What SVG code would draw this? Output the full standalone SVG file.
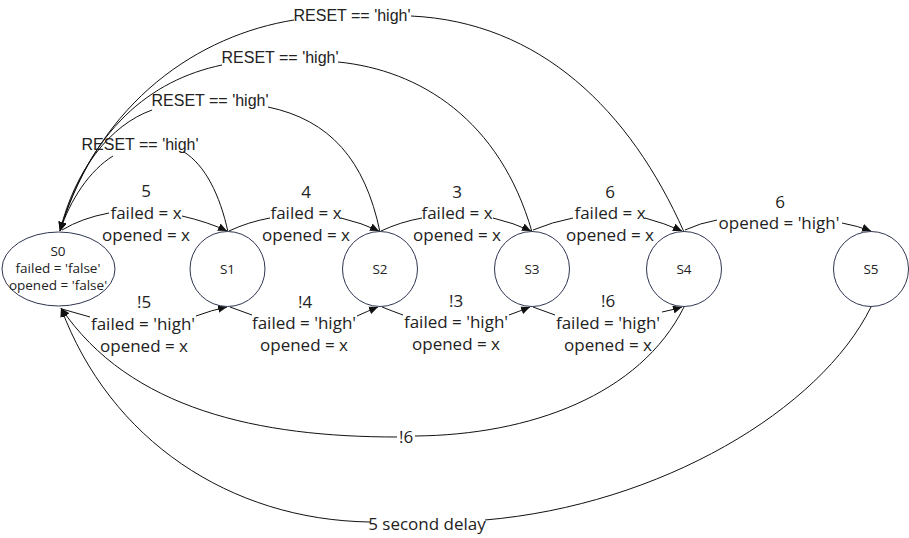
<svg xmlns="http://www.w3.org/2000/svg" width="909" height="538" viewBox="0 0 909 538">
<style>
.node{fill:#fff;stroke:#2f3650;stroke-width:1}
.nt{font-family:"Open Sans","Noto Sans",sans-serif;font-size:13.5px;fill:#222;text-anchor:middle}
.lbl{font-family:"Open Sans","Noto Sans",sans-serif;font-size:17px;fill:#222;text-anchor:middle}
.rst{font-family:"Liberation Sans",Arial,sans-serif;font-size:16px;fill:#222;text-anchor:middle}
.e{fill:none;stroke:#111;stroke-width:1}
.a{marker-end:url(#arr)}
</style>
<defs>
<marker id="arr" markerUnits="userSpaceOnUse" markerWidth="10" markerHeight="8" refX="9" refY="4" orient="auto">
<path d="M0,0 L9,4 L0,8 Z" fill="#111"/>
</marker>
</defs>
<rect width="909" height="538" fill="#fff"/>
<g id="connectors">
<path class="e" d="M 62 230 Q 82 218 109 213"/>
<path class="e a" d="M 182 216 Q 208 222 227 231"/>
<path class="e" d="M 229 231 Q 248 222 270 218"/>
<path class="e a" d="M 341 218 Q 362 223 379 231"/>
<path class="e" d="M 381 231 Q 400 222 422 218"/>
<path class="e a" d="M 493 218 Q 514 223 531 231"/>
<path class="e" d="M 533 230 Q 552 222 573 218"/>
<path class="e a" d="M 645 218 Q 664 223 682 231"/>
<path class="e" d="M 685 230 Q 700 223 717 220"/>
<path class="e a" d="M 842 223 Q 858 226 871 231"/>
<path class="e" d="M 62 309 Q 76 313 90 317"/>
<path class="e a" d="M 196 316 Q 212 310 227 307"/>
<path class="e" d="M 230 307 Q 241 311 252 315"/>
<path class="e a" d="M 357 316 Q 368 311 378 307"/>
<path class="e" d="M 382 307 Q 392 311 403 315"/>
<path class="e a" d="M 509 315 Q 520 311 530 307"/>
<path class="e" d="M 533 307 Q 544 311 555 315"/>
<path class="e a" d="M 662 312 Q 672 310 682 307"/>
<path class="e" d="M 684 232 C 630 110 540 22 411 16"/>
<path class="e a" d="M 294 20 C 200 35 100 100 60 231"/>
<path class="e" d="M 532 232 C 500 120 420 70 338 62"/>
<path class="e a" d="M 222 65 C 150 80 90 130 60 231"/>
<path class="e" d="M 380 232 C 365 160 330 120 268 107"/>
<path class="e a" d="M 152 110 C 110 125 75 170 60 231"/>
<path class="e" d="M 228 232 C 220 195 205 165 184 152"/>
<path class="e a" d="M 113 156 C 90 170 70 200 60 231"/>
<path class="e" d="M 684 307 C 640 395 530 435 415 436"/>
<path class="e a" d="M 397 437 C 260 437 130 410 61 308"/>
<path class="e" d="M 871 307 C 820 410 660 505 485 520"/>
<path class="e a" d="M 370 522 C 230 520 110 440 61 308"/>
</g>
<g id="S0"><ellipse class="node" cx="58.5" cy="269" rx="56.5" ry="37"/>
<text class="nt" x="58" y="256">S0</text>
<text class="nt" x="58" y="273">failed = 'false'</text>
<text class="nt" x="58" y="290">opened = 'false'</text></g>
<g id="S1"><circle class="node" cx="227.5" cy="269" r="37.5"/><text class="nt" x="227.5" y="274">S1</text></g>
<g id="S2"><circle class="node" cx="380" cy="269" r="37.5"/><text class="nt" x="380" y="274">S2</text></g>
<g id="S3"><circle class="node" cx="532" cy="269" r="37.5"/><text class="nt" x="532" y="274">S3</text></g>
<g id="S4"><circle class="node" cx="684" cy="269" r="37.5"/><text class="nt" x="684" y="274">S4</text></g>
<g id="S5"><circle class="node" cx="871" cy="269" r="37.5"/><text class="nt" x="871" y="274">S5</text></g>
<g id="labels">
<text class="lbl" x="146" y="197">5</text><text class="lbl" x="146" y="219">failed = x</text><text class="lbl" x="146" y="241">opened = x</text>
<text class="lbl" x="306" y="198">4</text><text class="lbl" x="306" y="219">failed = x</text><text class="lbl" x="306" y="241">opened = x</text>
<text class="lbl" x="457" y="198">3</text><text class="lbl" x="457" y="219">failed = x</text><text class="lbl" x="457" y="241">opened = x</text>
<text class="lbl" x="610" y="198">6</text><text class="lbl" x="610" y="219">failed = x</text><text class="lbl" x="610" y="241">opened = x</text>
<text class="lbl" x="780" y="208">6</text><text class="lbl" x="779" y="229">opened = 'high'</text>
<text class="lbl" x="144" y="308">!5</text><text class="lbl" x="143" y="330">failed = 'high'</text><text class="lbl" x="144" y="352">opened = x</text>
<text class="lbl" x="305" y="308">!4</text><text class="lbl" x="304" y="329">failed = 'high'</text><text class="lbl" x="304" y="351">opened = x</text>
<text class="lbl" x="456" y="307">!3</text><text class="lbl" x="456" y="328">failed = 'high'</text><text class="lbl" x="456" y="350">opened = x</text>
<text class="lbl" x="608" y="307">!6</text><text class="lbl" x="608" y="329">failed = 'high'</text><text class="lbl" x="608" y="351">opened = x</text>
<text class="lbl" x="406" y="443">!6</text>
<text class="lbl" x="427" y="530">5 second delay</text>
<text class="rst" x="352" y="21">RESET == 'high'</text>
<text class="rst" x="280" y="63">RESET == 'high'</text>
<text class="rst" x="210" y="106">RESET == 'high'</text>
<text class="rst" x="140" y="150">RESET == 'high'</text>
</g>
</svg>
